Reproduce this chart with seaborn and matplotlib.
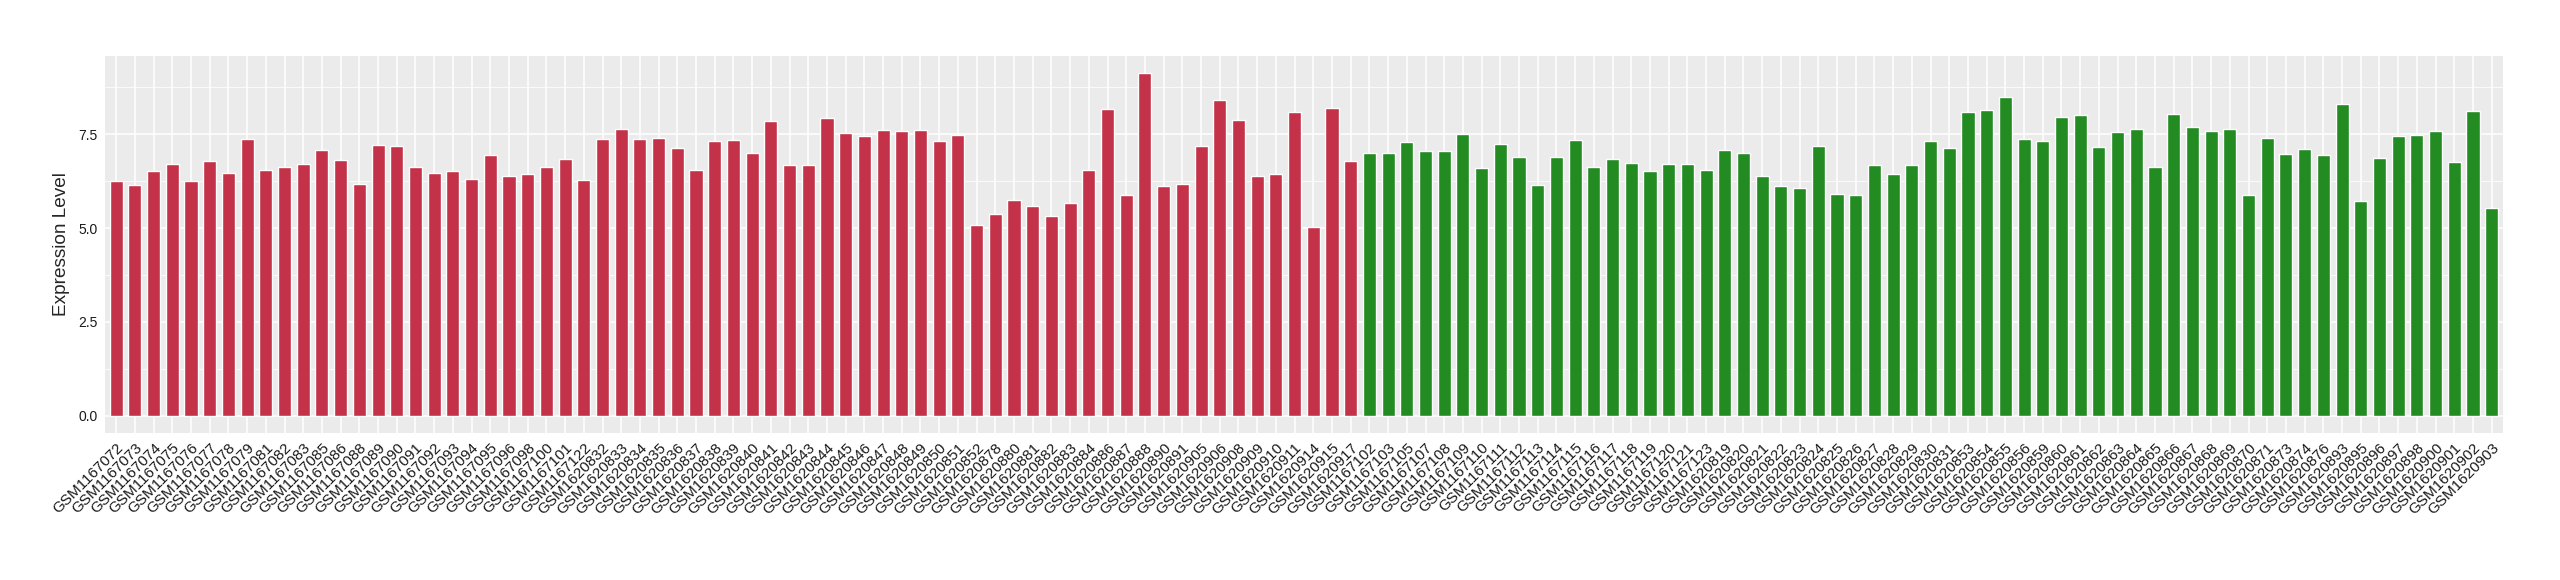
import numpy as np
import pandas as pd
import matplotlib
matplotlib.use("Agg")
import matplotlib.pyplot as plt
import seaborn as sns
from matplotlib.ticker import MultipleLocator

# sample ids and expression values
red_samples = [
    "GSM1167072", "GSM1167073", "GSM1167074", "GSM1167075", "GSM1167076",
    "GSM1167077", "GSM1167078", "GSM1167079", "GSM1167081", "GSM1167082",
    "GSM1167083", "GSM1167085", "GSM1167086", "GSM1167088", "GSM1167089",
    "GSM1167090", "GSM1167091", "GSM1167092", "GSM1167093", "GSM1167094",
    "GSM1167095", "GSM1167096", "GSM1167098", "GSM1167100", "GSM1167101",
    "GSM1167122", "GSM1620832", "GSM1620833", "GSM1620834", "GSM1620835",
    "GSM1620836", "GSM1620837", "GSM1620838", "GSM1620839", "GSM1620840",
    "GSM1620841", "GSM1620842", "GSM1620843", "GSM1620844", "GSM1620845",
    "GSM1620846", "GSM1620847", "GSM1620848", "GSM1620849", "GSM1620850",
    "GSM1620851", "GSM1620852", "GSM1620878", "GSM1620880", "GSM1620881",
    "GSM1620882", "GSM1620883", "GSM1620884", "GSM1620886", "GSM1620887",
    "GSM1620888", "GSM1620890", "GSM1620891", "GSM1620905", "GSM1620906",
    "GSM1620908", "GSM1620909", "GSM1620910", "GSM1620911", "GSM1620914",
    "GSM1620915", "GSM1620917",
]
red_values = [
    6.25, 6.14, 6.51, 6.71, 6.25, 6.79, 6.48, 7.38, 6.56, 6.64,
    6.71, 7.07, 6.82, 6.17, 7.22, 7.18, 6.64, 6.48, 6.53, 6.30,
    6.94, 6.40, 6.43, 6.64, 6.84, 6.27, 7.38, 7.64, 7.38, 7.41,
    7.13, 6.56, 7.33, 7.36, 6.99, 7.85, 6.68, 6.68, 7.93, 7.54,
    7.46, 7.62, 7.59, 7.62, 7.33, 7.48, 5.09, 5.37, 5.76, 5.58,
    5.33, 5.68, 6.56, 8.18, 5.88, 9.13, 6.12, 6.17, 7.18, 8.41,
    7.87, 6.38, 6.45, 8.10, 5.04, 8.21, 6.79,
]

green_samples = [
    "GSM1167102", "GSM1167103", "GSM1167105", "GSM1167107", "GSM1167108",
    "GSM1167109", "GSM1167110", "GSM1167111", "GSM1167112", "GSM1167113",
    "GSM1167114", "GSM1167115", "GSM1167116", "GSM1167117", "GSM1167118",
    "GSM1167119", "GSM1167120", "GSM1167121", "GSM1167123", "GSM1620819",
    "GSM1620820", "GSM1620821", "GSM1620822", "GSM1620823", "GSM1620824",
    "GSM1620825", "GSM1620826", "GSM1620827", "GSM1620828", "GSM1620829",
    "GSM1620830", "GSM1620831", "GSM1620853", "GSM1620854", "GSM1620855",
    "GSM1620856", "GSM1620859", "GSM1620860", "GSM1620861", "GSM1620862",
    "GSM1620863", "GSM1620864", "GSM1620865", "GSM1620866", "GSM1620867",
    "GSM1620868", "GSM1620869", "GSM1620870", "GSM1620871", "GSM1620873",
    "GSM1620874", "GSM1620876", "GSM1620893", "GSM1620895", "GSM1620896",
    "GSM1620897", "GSM1620898", "GSM1620900", "GSM1620901", "GSM1620902",
    "GSM1620903",
]
green_values = [
    6.99, 6.99, 7.30, 7.05, 7.05, 7.51, 6.59, 7.25, 6.90, 6.14,
    6.90, 7.36, 6.64, 6.84, 6.74, 6.51, 6.71, 6.71, 6.56, 7.07,
    6.99, 6.38, 6.12, 6.07, 7.18, 5.91, 5.88, 6.67, 6.43, 6.68,
    7.33, 7.13, 8.10, 8.16, 8.49, 7.38, 7.33, 7.95, 8.02, 7.15,
    7.56, 7.64, 6.64, 8.05, 7.70, 7.59, 7.64, 5.88, 7.41, 6.97,
    7.10, 6.94, 8.31, 5.71, 6.87, 7.46, 7.48, 7.59, 6.76, 8.13,
    5.53,
]

df = pd.DataFrame({
    "sample": red_samples + green_samples,
    "value": red_values + green_values,
    "group": ["red"] * len(red_samples) + ["green"] * len(green_samples),
})

sns.set_style("darkgrid", {"axes.facecolor": "#EBEBEB", "grid.color": "white"})
plt.rcParams["font.family"] = ["Liberation Sans", "DejaVu Sans"]

fig = plt.figure(figsize=(25.6, 5.8), dpi=100)
ax = fig.add_axes([0.041, 0.254, 0.9367, 0.6494])

sns.barplot(data=df, x="sample", y="value", hue="group",
            order=df["sample"], palette={"red": "#C33249", "green": "#228B22"},
            dodge=False, width=0.7, legend=False, saturation=1, ax=ax)

n = len(df)
ymax = df["value"].max()
ax.set_xlim(-0.6, n - 0.4)
ax.set_ylim(-0.05 * ymax, 1.05 * ymax)

ax.yaxis.set_major_locator(MultipleLocator(2.5))
ax.yaxis.set_minor_locator(MultipleLocator(1.25))
ax.yaxis.set_major_formatter(matplotlib.ticker.FormatStrFormatter("%.1f"))
ax.grid(which="major", color="white", linewidth=1.1)
ax.grid(which="minor", axis="y", color="white", linewidth=0.55)
ax.set_axisbelow(True)

for s in ax.spines.values():
    s.set_visible(False)

ax.tick_params(axis="both", which="major", length=3.5, width=0.8, color="#333333",
               labelcolor="#1a1a1a", pad=2)
ax.tick_params(axis="y", labelsize=10)
ax.tick_params(axis="x", labelsize=11)
ax.tick_params(axis="y", which="minor", length=0)
plt.setp(ax.get_xticklabels(), rotation=45, ha="right", rotation_mode="anchor")

ax.set_xlabel("")
ax.set_ylabel("Expression Level", fontsize=13.7, labelpad=6)

fig.savefig("out.png", dpi=100, facecolor="white")
